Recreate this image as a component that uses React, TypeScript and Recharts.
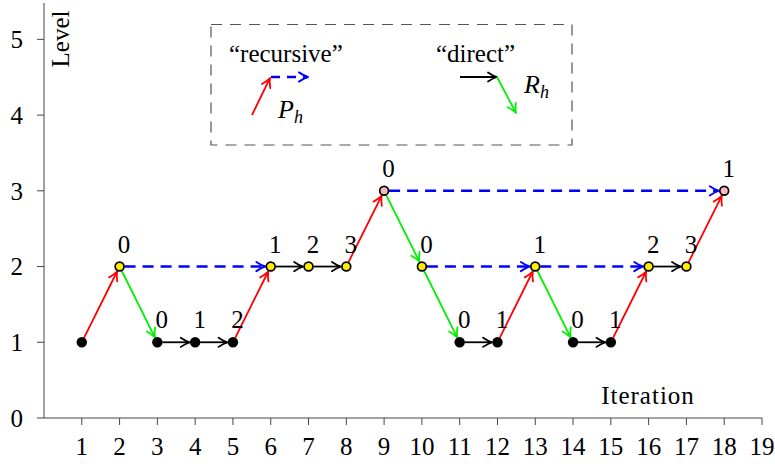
import React from 'react';
import { ComposedChart, Scatter, XAxis, YAxis, ReferenceLine, Customized } from 'recharts';

const FONT = '"Liberation Serif", "DejaVu Serif", serif';

// iteration index and level of each visited state
const iterations = [1, 2, 3, 4, 5, 6, 7, 8, 9, 10, 11, 12, 13, 14, 15, 16, 17, 18];
const levels = [1, 2, 1, 1, 1, 2, 2, 2, 3, 2, 1, 1, 2, 1, 1, 2, 2, 3];
const pointLabels = ['', '0', '0', '1', '2', '1', '2', '3', '0', '0', '0', '1', '1', '0', '1', '2', '3', '1'];

const xTicks = [1, 2, 3, 4, 5, 6, 7, 8, 9, 10, 11, 12, 13, 14, 15, 16, 17, 18, 19];
const yTicks = [0, 1, 2, 3, 4, 5];

// transitions (iteration -> iteration)
const edgeFrom = [1, 5, 8, 12, 15, 17, 2, 9, 10, 13, 2, 9, 10, 13, 3, 4, 6, 7, 11, 14, 16];
const edgeTo = [2, 6, 9, 13, 16, 18, 3, 10, 11, 14, 6, 18, 13, 16, 4, 5, 7, 8, 12, 15, 17];
const edgeKind = [
  'rise', 'rise', 'rise', 'rise', 'rise', 'rise',
  'fall', 'fall', 'fall', 'fall',
  'skip', 'skip', 'skip', 'skip',
  'next', 'next', 'next', 'next', 'next', 'next', 'next',
];

const edgeStyle: Record<string, { color: string; width: number; dash?: string }> = {
  rise: { color: '#ff0000', width: 1.8 },
  fall: { color: '#00f000', width: 1.8 },
  skip: { color: '#0000ff', width: 2.5, dash: '11 7' },
  next: { color: '#000000', width: 1.8 },
};

const points = iterations.map((it, i) => ({ x: it, y: levels[i], label: pointLabels[i] }));
const levelOf = (it: number) => levels[iterations.indexOf(it)];

function headPath(ex: number, ey: number, ux: number, uy: number) {
  const L = 9;
  const W = 4.6;
  const nx = -uy;
  const ny = ux;
  const bx = ex - ux * L;
  const by = ey - uy * L;
  const p1x = bx + nx * W, p1y = by + ny * W;
  const p2x = bx - nx * W, p2y = by - ny * W;
  const c1x = ex - ux * L * 0.4 + nx * W * 0.2, c1y = ey - uy * L * 0.4 + ny * W * 0.2;
  const c2x = ex - ux * L * 0.4 - nx * W * 0.2, c2y = ey - uy * L * 0.4 - ny * W * 0.2;
  return `M${p1x},${p1y} Q${c1x},${c1y} ${ex},${ey} Q${c2x},${c2y} ${p2x},${p2y}`;
}

function Arrow({ x1, y1, x2, y2, color, width, dash, startGap = 0, endGap = 0 }: any) {
  const dx = x2 - x1;
  const dy = y2 - y1;
  const len = Math.hypot(dx, dy) || 1;
  const ux = dx / len;
  const uy = dy / len;
  const sx = x1 + ux * startGap;
  const sy = y1 + uy * startGap;
  const ex = x2 - ux * endGap;
  const ey = y2 - uy * endGap;
  return (
    <g>
      <line x1={sx} y1={sy} x2={ex - ux * 1} y2={ey - uy * 1} stroke={color} strokeWidth={width} strokeDasharray={dash} />
      <path d={headPath(ex, ey, ux, uy)} fill="none" stroke={color} strokeWidth={Math.min(width, 1.9)} strokeLinecap="round" strokeLinejoin="round" />
    </g>
  );
}

function PointMark(props: any) {
  const { cx, cy, payload } = props;
  if (cx == null || cy == null) return null;
  const lvl = payload.y;
  let circle;
  if (lvl === 1) circle = <circle cx={cx} cy={cy} r={5.2} fill="#000" />;
  else
    circle = (
      <circle cx={cx} cy={cy} r={4.4} fill={lvl === 2 ? '#ffee00' : '#f7b8bd'} stroke="#000" strokeWidth={1.7} />
    );
  return (
    <g>
      {circle}
      {payload.label ? (
        <text x={cx + 4.5} y={cy - 14} textAnchor="middle" fontFamily={FONT} fontSize={25} fill="#000">
          {payload.label}
        </text>
      ) : null}
    </g>
  );
}

function LegendBox() {
  return (
    <g fontFamily={FONT} fill="#000">
      <rect x={211} y={24.5} width={361} height={120.5} fill="#fff" stroke="#555" strokeWidth={1.2} strokeDasharray="11 8" />
      <text x={229} y={62} fontSize={25}>“recursive”</text>
      <text x={436} y={62} fontSize={25}>“direct”</text>
      <Arrow x1={252} y1={115} x2={270} y2={78} {...edgeStyle.rise} />
      <Arrow x1={271} y1={77} x2={308} y2={77} {...edgeStyle.skip} dash="9 7" />
      <Arrow x1={460} y1={77} x2={497} y2={77} {...edgeStyle.next} />
      <Arrow x1={497} y1={77} x2={516} y2={113} {...edgeStyle.fall} />
      <text x={278} y={118} fontSize={26} fontStyle="italic">
        P<tspan fontSize={18} dy={5}>h</tspan>
      </text>
      <text x={524} y={93} fontSize={26} fontStyle="italic">
        R<tspan fontSize={18} dy={5}>h</tspan>
      </text>
      <text x={69} y={39} fontSize={25} textAnchor="middle" transform="rotate(-90 69 39)">Level</text>
      <text x={648} y={404} fontSize={25} textAnchor="middle" letterSpacing={1}>Iteration</text>
    </g>
  );
}

export default function App() {
  const tickStyle = { fill: '#000', fontSize: 25, fontFamily: FONT };
  return (
    <div style={{ position: 'absolute', left: 0, top: 0, background: '#fff' }}>
      <ComposedChart width={775} height={464} data={points} margin={{ top: 3, right: 13, bottom: 0, left: 0 }}>
        <XAxis
          xAxisId={0}
          type="number"
          dataKey="x"
          domain={[0, 19]}
          ticks={xTicks}
          interval={0}
          tickSize={7}
          tickMargin={12}
          height={46}
          stroke="#444"
          tick={tickStyle}
          allowDataOverflow
        />
        <XAxis xAxisId="top" orientation="top" type="number" domain={[0, 19]} height={0} tick={false} tickLine={false} stroke="#444" allowDataOverflow />
        <YAxis
          yAxisId={0}
          type="number"
          dataKey="y"
          domain={[0, 5.48]}
          ticks={yTicks}
          interval={0}
          tickSize={7}
          tickMargin={14}
          width={44}
          stroke="#444"
          tick={tickStyle}
          allowDataOverflow
        />
        <YAxis yAxisId="right" orientation="right" type="number" domain={[0, 5.48]} width={0} tick={false} tickLine={false} stroke="#444" allowDataOverflow />
        <Customized component={LegendBox} />
        {edgeFrom.map((f, i) => {
          const t = edgeTo[i];
          const st = edgeStyle[edgeKind[i]];
          return (
            <ReferenceLine
              key={`e${i}`}
              xAxisId={0}
              yAxisId={0}
              segment={[
                { x: f, y: levelOf(f) },
                { x: t, y: levelOf(t) },
              ]}
              ifOverflow="visible"
              shape={(p: any) => (
                <Arrow x1={p.x1} y1={p.y1} x2={p.x2} y2={p.y2} {...st} startGap={5} endGap={5.4} />
              )}
            />
          );
        })}
        <Scatter xAxisId={0} yAxisId={0} data={points} isAnimationActive={false} shape={(p: any) => <PointMark {...p} />} />
      </ComposedChart>
    </div>
  );
}
